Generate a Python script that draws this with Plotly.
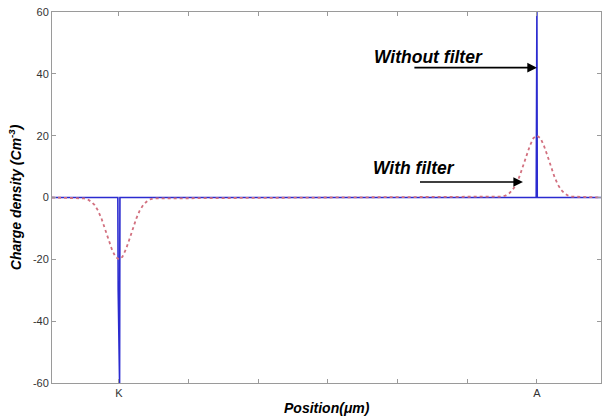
import plotly.graph_objects as go

# --- data ---
tick_positions = [1, 2, 3, 4, 5, 6, 7]
tick_labels = ["K", "", "", "", "", "", "A"]
y_ticks = [-60, -40, -20, 0, 20, 40, 60]
y_tick_labels = ["-60", "-40", "-20", "0", "20", "40", "60"]
x_start, x_end = 0.04, 7.92
pos_K, pos_A = 1.0, 7.0

# Without filter (blue): sharp spikes at K and A
blue_x = [x_start, 0.985, 0.99, 1.0, 1.01, 1.015, 6.99, 6.995, 7.0, 7.005, x_end]
blue_y = [0, 0, -30, -60, -60, 0, 0, 30, 60, 0, 0]

# With filter (red dotted): smooth peaks, offsets from centre and magnitude
red_offsets = [-0.5, -0.45, -0.4, -0.35, -0.3, -0.25, -0.2, -0.15, -0.1, -0.05, 0.0,
               0.05, 0.1, 0.15, 0.2, 0.25, 0.3, 0.35, 0.4, 0.45, 0.5]
red_shape = [0.3, 0.6, 1.3, 2.4, 4.2, 6.8, 10.0, 13.6, 16.8, 19.2, 20.0,
             19.2, 16.8, 13.6, 10.0, 6.8, 4.2, 2.4, 1.3, 0.6, 0.3]

red_x = [x_start] + [pos_K + o for o in red_offsets] + [pos_A + o for o in red_offsets] + [x_end]
red_y = [0] + [-v for v in red_shape] + [v for v in red_shape] + [0]

fig = go.Figure()
fig.add_trace(go.Scatter(x=blue_x, y=blue_y, mode="lines",
                         line=dict(color="#2b2bd0", width=1.6), showlegend=False))
fig.add_trace(go.Scatter(x=red_x, y=red_y, mode="lines",
                         line=dict(color="#d2707f", width=1.8, dash="dot"), showlegend=False))

font_fam = "Liberation Sans, Arial, sans-serif"

fig.add_annotation(x=pos_A, y=42, ax=5.22, ay=42, xref="x", yref="y", axref="x", ayref="y",
                   showarrow=True, arrowhead=2, arrowsize=1.2, arrowwidth=1.6, arrowcolor="black", text="")
fig.add_annotation(x=6.8, y=5, ax=5.30, ay=5, xref="x", yref="y", axref="x", ayref="y",
                   showarrow=True, arrowhead=2, arrowsize=1.2, arrowwidth=1.6, arrowcolor="black", text="")
fig.add_annotation(x=5.45, y=45.5, xref="x", yref="y", showarrow=False,
                   text="<b><i>Without filter</i></b>", font=dict(family=font_fam, size=17.5, color="black"))
fig.add_annotation(x=5.24, y=9.4, xref="x", yref="y", showarrow=False,
                   text="<b><i>With filter</i></b>", font=dict(family=font_fam, size=17.5, color="black"))

# axis titles as annotations (fixed position)
fig.add_annotation(x=0.5, y=-0.068, xref="paper", yref="paper", showarrow=False,
                   xanchor="center", yanchor="middle",
                   text="<b><i>Position(μm)</i></b>", font=dict(family=font_fam, size=14, color="black"))
fig.add_annotation(x=-0.068, y=0.5, xref="paper", yref="paper", showarrow=False, textangle=-90,
                   xanchor="center", yanchor="middle",
                   text="<b><i>Charge density (Cm<sup>-3</sup>)</i></b>",
                   font=dict(family=font_fam, size=14, color="black"))

axis_common = dict(showline=True, linecolor="#9a9a9a", linewidth=1, mirror="ticks",
                   ticks="inside", ticklen=4, tickcolor="#9a9a9a", showgrid=False, zeroline=False,
                   automargin=False,
                   tickfont=dict(family=font_fam, size=11, color="#333333"))

fig.update_xaxes(range=[x_start, x_end], tickvals=tick_positions, ticktext=tick_labels, **axis_common)
fig.update_yaxes(range=[-60, 60], tickvals=y_ticks, ticktext=y_tick_labels, **axis_common)

fig.update_layout(width=602, height=416, margin=dict(l=52, r=1, t=12, b=33),
                  plot_bgcolor="white", paper_bgcolor="white")

fig.write_html("out.html", config={"displayModeBar": False},
               post_script="document.body.style.margin='0';document.body.style.padding='0';")
